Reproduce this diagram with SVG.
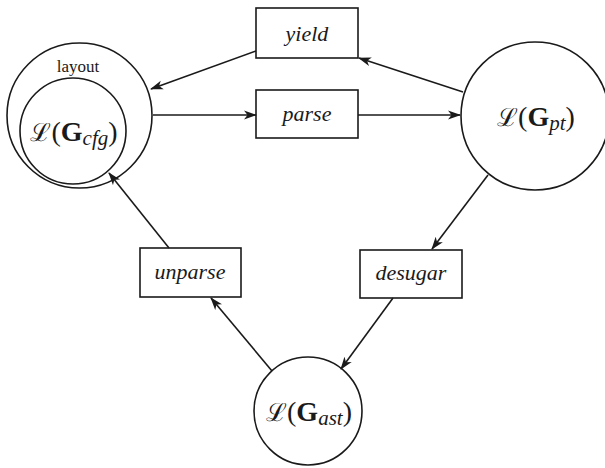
<svg xmlns="http://www.w3.org/2000/svg" width="605" height="468" viewBox="0 0 605 468">
<style>
.n{fill:none;stroke:#1a1a1a;stroke-width:1.6}
.e{fill:none;stroke:#1a1a1a;stroke-width:1.6;marker-end:url(#ah)}
.lb{font-family:'Liberation Serif',serif;font-style:italic;font-size:22px;fill:#1a1a1a;text-anchor:middle}
.m{font-family:'Liberation Serif',serif;font-size:28px;font-weight:normal;fill:#1a1a1a;text-anchor:middle}
.s{font-family:'DejaVu Serif',serif;font-size:25px;font-weight:normal}
.p{font-family:'Liberation Serif',serif;font-weight:normal}
.g{font-weight:bold}
.sub{font-style:italic;font-size:21px;font-weight:normal}
.sm{font-family:'Liberation Serif',serif;font-size:17px;fill:#1a1a1a;text-anchor:middle}
</style>
<defs>
<marker id="ah" viewBox="0 0 13 10" refX="12" refY="5" markerWidth="13" markerHeight="10" markerUnits="userSpaceOnUse" orient="auto">
<path d="M0,0.5 L13,5 L0,9.5 L3.5,5 z" fill="#1a1a1a"/>
</marker>
</defs>
<g id="edges">
<line class="e" x1="463" y1="92" x2="359" y2="58"/>
<line class="e" x1="256" y1="51" x2="151" y2="89"/>
<line class="e" x1="153" y1="115" x2="256" y2="115"/>
<line class="e" x1="358" y1="115" x2="460" y2="115"/>
<line class="e" x1="488" y1="175" x2="432" y2="249"/>
<line class="e" x1="393" y1="298" x2="341" y2="369"/>
<line class="e" x1="272" y1="371" x2="211" y2="298"/>
<line class="e" x1="169" y1="248" x2="109" y2="173"/>
</g>
<g id="layout">
<circle class="n" cx="79.5" cy="115.5" r="72.5"/>
<text class="sm" x="78" y="72">layout</text>
</g>
<g id="cfg">
<circle class="n" cx="73" cy="131" r="53"/>
<text class="m" x="74" y="141"><tspan class="s">ℒ</tspan><tspan class="p">(</tspan><tspan class="g">G</tspan><tspan class="sub" dy="4">cfg</tspan><tspan class="p" dy="-4">)</tspan></text>
</g>
<g id="pt">
<circle class="n" cx="535" cy="116" r="74"/>
<text class="m" x="536" y="126"><tspan class="s">ℒ</tspan><tspan class="p">(</tspan><tspan class="g">G</tspan><tspan class="sub" dy="4">pt</tspan><tspan class="p" dy="-4">)</tspan></text>
</g>
<g id="ast">
<circle class="n" cx="308" cy="411" r="54"/>
<text class="m" x="309" y="421"><tspan class="s">ℒ</tspan><tspan class="p">(</tspan><tspan class="g">G</tspan><tspan class="sub" dy="4">ast</tspan><tspan class="p" dy="-4">)</tspan></text>
</g>
<g id="yield">
<rect class="n" x="256" y="8" width="102" height="50"/>
<text class="lb" x="307" y="41">yield</text>
</g>
<g id="parse">
<rect class="n" x="256" y="90" width="102" height="48"/>
<text class="lb" x="307" y="121">parse</text>
</g>
<g id="unparse">
<rect class="n" x="140" y="248" width="101" height="49"/>
<text class="lb" x="190" y="279">unparse</text>
</g>
<g id="desugar">
<rect class="n" x="360" y="250" width="102" height="48"/>
<text class="lb" x="411" y="280">desugar</text>
</g>
</svg>
